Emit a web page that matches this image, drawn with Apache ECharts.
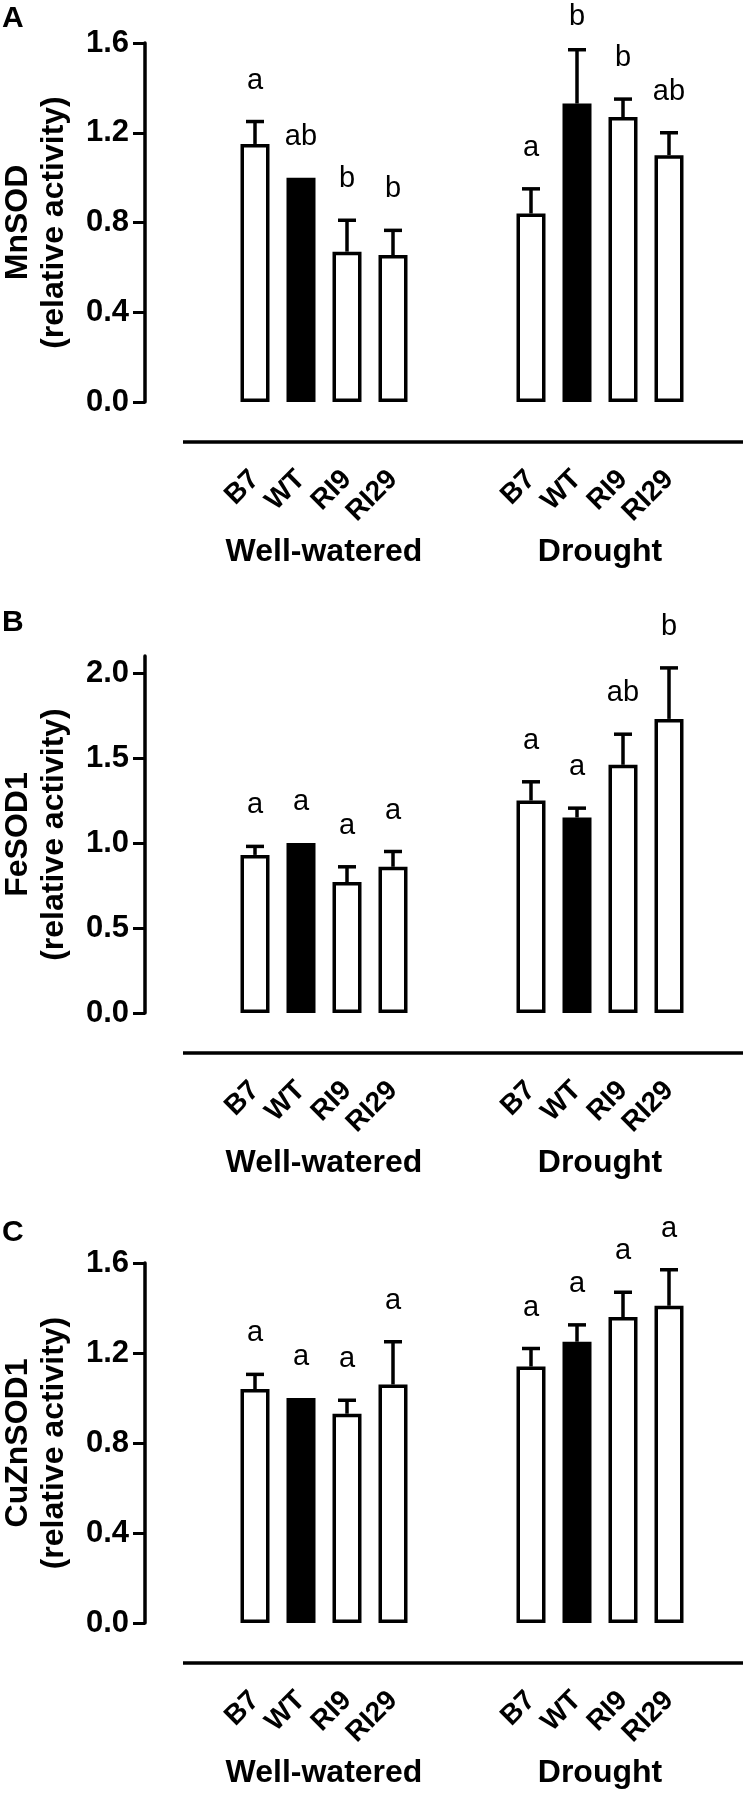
<!DOCTYPE html>
<html><head><meta charset="utf-8">
<script src="https://cdn.jsdelivr.net/npm/echarts@6/dist/echarts.min.js"></script>
<style>html,body{margin:0;padding:0;background:#fff}#c{width:747px;height:1795px}</style>
</head><body><div id="c"></div>
<script>
// ---- data ----
const genotypes = ['B7', 'WT', 'RI9', 'RI29'];
const treatments = ['Well-watered', 'Drought'];
const panelLetters = ['A', 'B', 'C'];
const enzymeNames = ['MnSOD', 'FeSOD1', 'CuZnSOD1'];
const yTicksA = [0, 0.4, 0.8, 1.2, 1.6];
const yTicksB = [0, 0.5, 1.0, 1.5, 2.0];
const yTicksC = [0, 0.4, 0.8, 1.2, 1.6];
// order: Well-watered B7, WT, RI9, RI29, Drought B7, WT, RI9, RI29
const mnsodMean = [1.15, 1.00, 0.67, 0.655, 0.84, 1.33, 1.27, 1.10];
const mnsodErr  = [0.10, 0.00, 0.14, 0.11, 0.11, 0.24, 0.08, 0.10];
const mnsodLetters = ['a', 'ab', 'b', 'b', 'a', 'b', 'b', 'ab'];
const fesodMean = [0.93, 1.00, 0.77, 0.86, 1.25, 1.15, 1.46, 1.73];
const fesodErr  = [0.05, 0.00, 0.09, 0.09, 0.11, 0.055, 0.18, 0.30];
const fesodLetters = ['a', 'a', 'a', 'a', 'a', 'a', 'ab', 'b'];
const cuznMean = [1.04, 1.00, 0.93, 1.06, 1.14, 1.25, 1.36, 1.41];
const cuznErr  = [0.065, 0.00, 0.06, 0.19, 0.08, 0.075, 0.11, 0.16];
const cuznLetters = ['a', 'a', 'a', 'a', 'a', 'a', 'a', 'a'];

// ---- layout / style ----
const FONT = '"Liberation Sans", Arial, Helvetica, sans-serif';
const panels = [
  { mean: mnsodMean, err: mnsodErr, letters: mnsodLetters, ticks: yTicksA, max: 1.6, top: 43, height: 359 },
  { mean: fesodMean, err: fesodErr, letters: fesodLetters, ticks: yTicksB, max: 2.1, top: 656, height: 357 },
  { mean: cuznMean, err: cuznErr, letters: cuznLetters, ticks: yTicksC, max: 1.6, top: 1263, height: 360 }
];
const GAP = 2; // empty slots between treatment groups
const slotCount = genotypes.length * treatments.length + GAP;
const slotOf = (t, g) => t * (genotypes.length + GAP) + g;
const categories = [];
for (let s = 0; s < slotCount; s++) categories.push('s' + s);
const slotLabel = {};
treatments.forEach((t, ti) => genotypes.forEach((g, gi) => { slotLabel['s' + slotOf(ti, gi)] = g; }));
const groupCenters = treatments.map((t, ti) => (slotOf(ti, 0) + slotOf(ti, genotypes.length - 1)) / 2);

const grids = [], xAxes = [], yAxes = [], series = [], graphics = [];
const LEFT = 232, WIDTH = 460, AXIS_OFFSET = 87;

panels.forEach((p, i) => {
  grids.push({ left: LEFT, width: WIDTH, top: p.top, height: p.height, containLabel: false, outerBoundsMode: 'none' });
  const catAxisIndex = xAxes.length;
  xAxes.push({
    type: 'category', gridIndex: i, data: categories, position: 'bottom',
    axisLine: { show: false, onZero: false }, axisTick: { show: false }, splitLine: { show: false },
    axisLabel: {
      interval: 0, rotate: 45, margin: 73, fontFamily: FONT, fontSize: 28, fontWeight: 'bold', color: '#000',
      formatter: v => slotLabel[v] || ''
    }
  });
  // treatment group axis
  xAxes.push({
    type: 'value', gridIndex: i, min: -0.5, max: slotCount - 0.5, position: 'bottom',
    axisLine: { show: false, onZero: false }, axisTick: { show: false }, splitLine: { show: false },
    axisLabel: { customValues: groupCenters, margin: 134, fontFamily: FONT, fontSize: 32, fontWeight: 'bold', color: '#000',
      formatter: v => treatments[groupCenters.indexOf(v)] || '' }
  });
  yAxes.push({
    type: 'value', gridIndex: i, min: 0, max: p.max, offset: AXIS_OFFSET,
    axisLine: { show: true, onZero: false, lineStyle: { color: '#000', width: 3.5 } },
    axisTick: { show: true, length: 12, lineStyle: { color: '#000', width: 3 }, customValues: p.ticks },
    axisLabel: { customValues: p.ticks, margin: 16, fontFamily: FONT, fontSize: 31, fontWeight: 'bold', color: '#000',
      formatter: v => v.toFixed(1) },
    splitLine: { show: false },
    name: enzymeNames[i] + '\n(relative activity)', nameLocation: 'middle', nameGap: 73,
    nameTextStyle: { fontFamily: FONT, fontSize: 32, fontWeight: 'bold', color: '#000', lineHeight: 36 }
  });
  const barData = [], errData = [];
  treatments.forEach((t, ti) => genotypes.forEach((g, gi) => {
    const k = ti * genotypes.length + gi;
    const filled = g === 'WT';
    barData.push({ value: [slotOf(ti, gi), p.mean[k]],
      itemStyle: { color: filled ? '#000' : '#fff', borderColor: '#000', borderWidth: 3.5 } });
    errData.push([slotOf(ti, gi), p.mean[k], p.err[k], k]);
  }));
  series.push({
    type: 'bar', xAxisIndex: catAxisIndex, yAxisIndex: i, barWidth: 29, data: barData, silent: true, animation: false
  });
  series.push({
    type: 'custom', xAxisIndex: catAxisIndex, yAxisIndex: i, data: errData, silent: true, animation: false, z: 5,
    renderItem: (params, api) => {
      const x = api.value(0), m = api.value(1), e = api.value(2), k = api.value(3);
      const base = api.coord([x, m]);
      const top = api.coord([x, m + e]);
      const children = [];
      if (e > 0) {
        children.push({ type: 'line', shape: { x1: base[0], y1: base[1], x2: top[0], y2: top[1] },
          style: { stroke: '#000', lineWidth: 3.5 } });
        children.push({ type: 'line', shape: { x1: top[0] - 9, y1: top[1], x2: top[0] + 9, y2: top[1] },
          style: { stroke: '#000', lineWidth: 3.5 } });
      }
      children.push({ type: 'text', x: top[0], y: Math.max(top[1] - 41, 17),
        style: { text: p.letters[k], textAlign: 'center', textVerticalAlign: 'middle',
          font: '29px ' + FONT, fill: '#000' } });
      return { type: 'group', children };
    }
  });
  const bottom = p.top + p.height;
  graphics.push({ type: 'line', shape: { x1: 183, y1: bottom + 40, x2: 743, y2: bottom + 40 },
    style: { stroke: '#000', lineWidth: 3.5 } });
});
graphics.push({ type: 'text', left: 2, top: 4, style: { text: panelLetters[0], font: 'bold 30px ' + FONT, fill: '#000' } });
graphics.push({ type: 'text', left: 2, top: 608, style: { text: panelLetters[1], font: 'bold 30px ' + FONT, fill: '#000' } });
graphics.push({ type: 'text', left: 2, top: 1218, style: { text: panelLetters[2], font: 'bold 30px ' + FONT, fill: '#000' } });

const chart = echarts.init(document.getElementById('c'), null, { renderer: 'canvas' });
chart.setOption({
  animation: false, backgroundColor: '#fff',
  grid: grids, xAxis: xAxes, yAxis: yAxes, series, graphic: graphics
});
</script></body></html>
